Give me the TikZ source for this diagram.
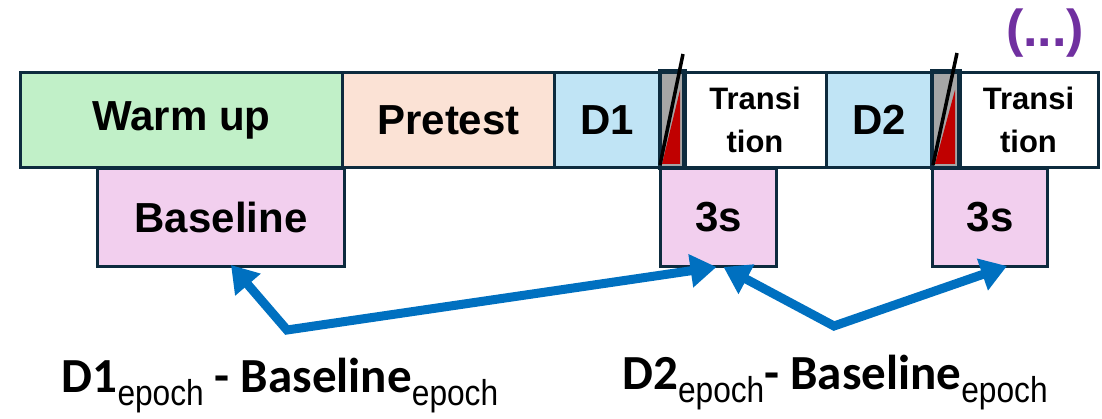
\documentclass[tikz,border=0pt]{standalone}
\usepackage{fontspec}
\setmainfont{Liberation Sans}
\newfontfamily\carl{Carlito}
\newfontfamily\subf[FakeStretch=0.88]{Liberation Sans}
\usetikzlibrary{arrows.meta}
\definecolor{edgec}{HTML}{0D2B3E}
\definecolor{warmc}{HTML}{C1F0C8}
\definecolor{prec}{HTML}{FBE2D5}
\definecolor{dc}{HTML}{C0E4F5}
\definecolor{pinkc}{HTML}{F2CFEE}
\definecolor{grayc}{HTML}{A6A6A6}
\definecolor{redc}{HTML}{C00000}
\definecolor{bluec}{HTML}{0070C0}
\definecolor{purc}{HTML}{7030A0}
\tikzset{
  box/.style={draw=edgec, line width=3pt, anchor=north west, inner sep=0pt, align=center,
    font=\fontsize{42}{48}\selectfont\bfseries},
  small/.style={font=\fontsize{31}{43}\selectfont\bfseries},
  arr/.style={draw=bluec, line width=9pt, line join=miter,
    {Triangle[length=26pt,width=32pt]}-{Triangle[length=26pt,width=32pt]}},
  lab/.style={inner sep=0pt}
}
\newcommand{\mainlab}[1]{{\carl\fontsize{49}{54}\selectfont\bfseries #1}}
\newcommand{\sublab}[1]{\raisebox{-13pt}{\subf\fontsize{36}{38}\selectfont #1}}
\begin{document}
\begin{tikzpicture}[x=1pt,y=-1pt]
\useasboundingbox (0,0) rectangle (1102,419);
% bottom row (drawn first)
\node[box, fill=pinkc, minimum width=247pt, minimum height=98pt] (base) at (96,167) {Baseline};
\node[box, fill=pinkc, minimum width=116pt, minimum height=98pt] (s1) at (659,167) {3s};
\node[box, fill=pinkc, minimum width=115pt, minimum height=98pt] (s2) at (931,167) {3s};
% top row
\node[box, fill=warmc, minimum width=322pt, minimum height=95pt] (warm) at (19,71) {Warm up};
\node[box, fill=prec, minimum width=212pt, minimum height=95pt] (pre) at (341,71) {Pretest};
\node[box, fill=dc, minimum width=106pt, minimum height=95pt] (d1) at (553,71) {D1};
\node[box, fill=grayc, minimum width=23pt, minimum height=95pt] (g1) at (659,71) {};
\node[box, small, fill=white, minimum width=143pt, minimum height=95pt] (t1) at (682,71) {Transi\\tion};
\node[box, fill=dc, minimum width=106pt, minimum height=95pt] (d2) at (825,71) {D2};
\node[box, fill=grayc, minimum width=26pt, minimum height=95pt] (g2) at (931,71) {};
\node[box, small, fill=white, minimum width=140pt, minimum height=95pt] (t2) at (957,71) {Transi\\tion};
% red wedges
\fill[redc] (662,164) -- (680,164) -- (680,90) -- cycle;
\fill[redc] (935,164) -- (955,164) -- (955,90) -- cycle;
% redraw borders of slots
\draw[edgec, line width=3pt] (g1.north west) rectangle (g1.south east);
\draw[edgec, line width=3pt] (g2.north west) rectangle (g2.south east);
\draw[black, line width=3.5pt] (660,165) -- (683,54);
\draw[black, line width=3.5pt] (933,165) -- (957,53);
% (...)
\node[lab, text=purc, font=\fontsize{52}{56}\selectfont\bfseries] (dots) at (1045,33) {(...)};
% arrows
\coordinate (a1) at (287,330);
\coordinate (a2) at (834,326);
\draw[arr] ([xshift=10pt,yshift=3pt]base.south) -- (a1) -- ([xshift=-2pt,yshift=1pt]s1.south);
\draw[arr] ([xshift=5pt,yshift=1pt]s1.south) -- (a2) -- ([xshift=17pt,yshift=2pt]s2.south);
% labels
\node[lab] (l1) at (280,386) {\mainlab{D1}\sublab{epoch}\mainlab{ - Baseline}\sublab{epoch}};
\node[lab] (l2) at (835,383) {\mainlab{D2}\sublab{epoch}\mainlab{- Baseline}\sublab{epoch}};
\end{tikzpicture}
\end{document}
